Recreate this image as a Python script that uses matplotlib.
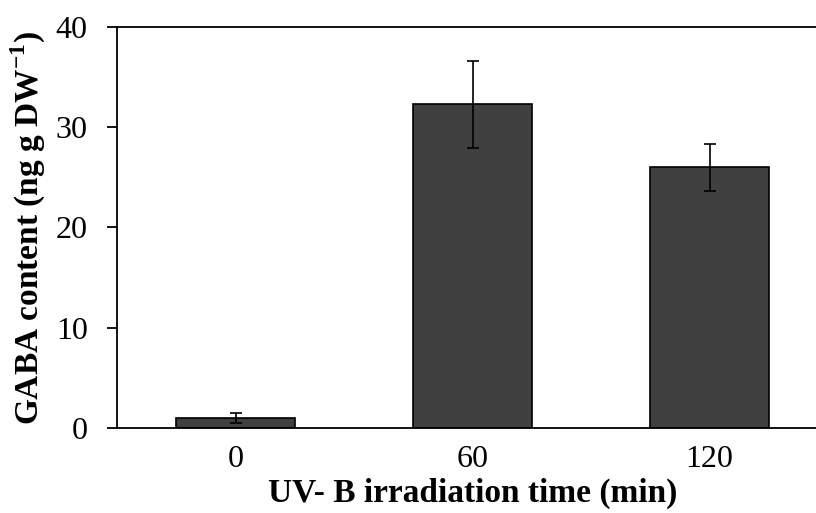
import numpy as np
import matplotlib
matplotlib.use("Agg")
import matplotlib.pyplot as plt

# data
times = ["0", "60", "120"]
gaba = [1.0, 32.3, 26.0]
gaba_err = [0.5, 4.35, 2.35]
y_ticks = [0, 10, 20, 30, 40]

plt.rcParams["font.family"] = "Liberation Serif"
plt.rcParams["mathtext.fontset"] = "custom"
plt.rcParams["mathtext.rm"] = "Liberation Serif"
plt.rcParams["mathtext.bf"] = "Liberation Serif:bold"


def main():
    W, H = 816, 513
    figure = plt.figure(figsize=(W / 100, H / 100), dpi=100, facecolor="w")
    # plot area runs past the right edge of the picture, as in the reference
    left, right, bottom, top = 117, 828, 428, 27
    axes = figure.add_axes([left / W, (H - bottom) / H, (right - left) / W, (bottom - top) / H])

    x = np.arange(len(times))
    axes.bar(x, gaba, width=0.506, color="#404040", edgecolor="black", linewidth=1.2,
             yerr=gaba_err, error_kw=dict(ecolor="black", elinewidth=1.2, capsize=4.3, capthick=1.2))

    axes.set_xlim(-0.5, 2.5)
    axes.set_ylim(0, 40)
    axes.set_yticks(y_ticks)
    axes.set_xticks(x)
    axes.set_xticklabels(times)

    axes.spines["right"].set_visible(False)
    for side in ["left", "bottom", "top"]:
        axes.spines[side].set_linewidth(1.3)
        axes.spines[side].set_color("black")

    axes.tick_params(axis="y", direction="out", length=7, width=1.3, labelsize=23, pad=14)
    axes.tick_params(axis="x", length=0, labelsize=23, pad=12)

    axes.set_xlabel("UV- B irradiation time (min)", fontsize=24, fontweight="bold", labelpad=3)
    axes.set_ylabel(r"GABA content (ng g DW$^{\mathbf{-1}}$)", fontsize=24, fontweight="bold")
    axes.yaxis.set_label_coords(-0.097, 0.5)

    figure.savefig("out.png", dpi=100)


if __name__ == "__main__":
    main()
